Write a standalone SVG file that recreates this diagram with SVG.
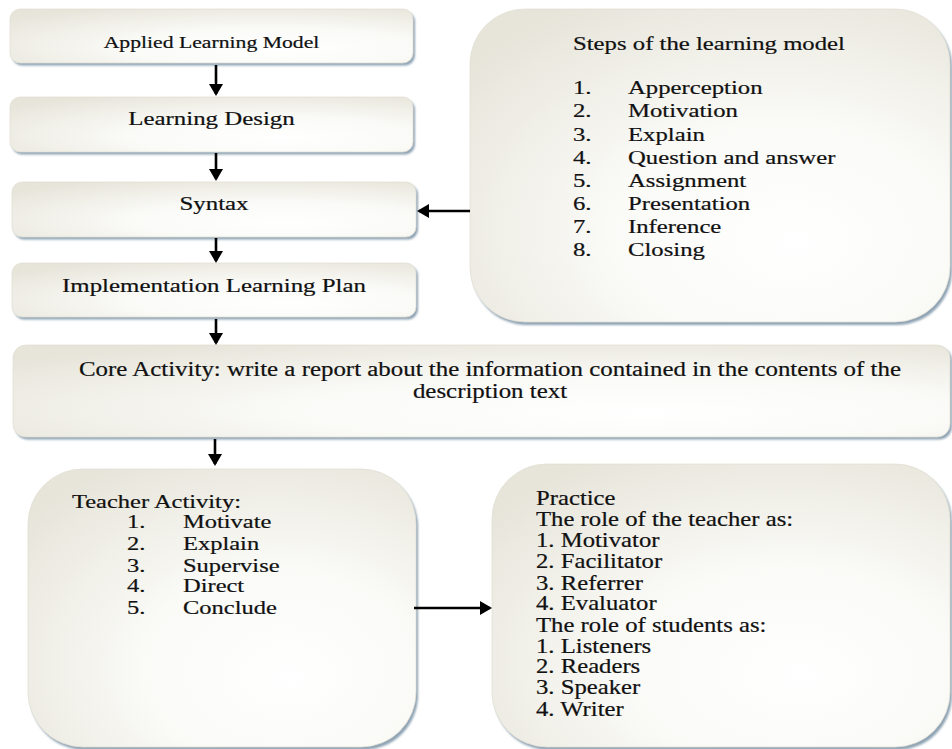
<svg xmlns="http://www.w3.org/2000/svg" width="952" height="749" viewBox="0 0 952 749">
<style>
  text { font-family: "Liberation Serif", "Times New Roman", serif; fill: #111; stroke: #111; stroke-width: 0.2; }
  .t19 { font-size: 19px; }
  .t17 { font-size: 16.7px; }
  .s { font-size: 18.6px; }
  .b { font-size: 20px; }
  .tb { font-size: 19px; }
  .box { fill: url(#fill); stroke: #e2e0d4; stroke-width: 0.8; }
  .shadow { fill: #8ea3b4; filter: url(#blur); }
  .conn { stroke: #000; stroke-width: 2.6; fill: none; marker-end: url(#ah); }
</style>
<defs>
  <radialGradient id="fill" cx="0.62" cy="0.68" r="0.8" fx="0.68" fy="0.75">
    <stop offset="0" stop-color="#ffffff"/>
    <stop offset="0.45" stop-color="#fafaf7"/>
    <stop offset="1" stop-color="#e7e5da"/>
  </radialGradient>
  <filter id="blur" x="-5%" y="-5%" width="110%" height="110%">
    <feGaussianBlur stdDeviation="0.9"/>
  </filter>
  <marker id="ah" viewBox="0 0 12 14" markerWidth="12" markerHeight="14" refX="10" refY="7" orient="auto" markerUnits="userSpaceOnUse">
    <path d="M0,0 L12,7 L0,14 z" fill="#000"/>
  </marker>
</defs>
<rect width="952" height="749" fill="#ffffff"/>

<g id="applied-learning-model">
  <rect class="shadow" x="12" y="11.5" width="403" height="54" rx="10"/>
  <rect class="box" x="10" y="9" width="403" height="54" rx="10"/>
  <text class="t17" text-anchor="middle" transform="translate(211.5 48) scale(1.3 1)">Applied Learning Model</text>
</g>

<g id="learning-design">
  <rect class="shadow" x="12" y="99.5" width="403" height="55" rx="10"/>
  <rect class="box" x="10" y="97" width="403" height="55" rx="10"/>
  <text class="t19" text-anchor="middle" transform="translate(211.5 125) scale(1.31 1)">Learning Design</text>
</g>

<g id="syntax">
  <rect class="shadow" x="14" y="184.5" width="404" height="55" rx="10"/>
  <rect class="box" x="12" y="182" width="404" height="55" rx="10"/>
  <text class="t19" text-anchor="middle" transform="translate(214 210) scale(1.31 1)">Syntax</text>
</g>

<g id="implementation-learning-plan">
  <rect class="shadow" x="14" y="265.5" width="404" height="54" rx="10"/>
  <rect class="box" x="12" y="263" width="404" height="54" rx="10"/>
  <text class="t19" text-anchor="middle" transform="translate(214 292) scale(1.31 1)">Implementation Learning Plan</text>
</g>

<g id="steps">
  <rect class="shadow" x="472" y="12" width="480" height="313" rx="55"/>
  <rect class="box" x="470" y="9" width="480" height="313" rx="55"/>
  <text class="s" transform="translate(573 50) scale(1.33 1)">Steps of the learning model</text>
  <text class="s" transform="translate(573 94) scale(1.33 1)">1.</text>
  <text class="s" transform="translate(628 94) scale(1.33 1)">Apperception</text>
  <text class="s" transform="translate(573 117) scale(1.33 1)">2.</text>
  <text class="s" transform="translate(628 117) scale(1.33 1)">Motivation</text>
  <text class="s" transform="translate(573 141) scale(1.33 1)">3.</text>
  <text class="s" transform="translate(628 141) scale(1.33 1)">Explain</text>
  <text class="s" transform="translate(573 164) scale(1.33 1)">4.</text>
  <text class="s" transform="translate(628 164) scale(1.33 1)">Question and answer</text>
  <text class="s" transform="translate(573 187) scale(1.33 1)">5.</text>
  <text class="s" transform="translate(628 187) scale(1.33 1)">Assignment</text>
  <text class="s" transform="translate(573 210) scale(1.33 1)">6.</text>
  <text class="s" transform="translate(628 210) scale(1.33 1)">Presentation</text>
  <text class="s" transform="translate(573 233) scale(1.33 1)">7.</text>
  <text class="s" transform="translate(628 233) scale(1.33 1)">Inference</text>
  <text class="s" transform="translate(573 256) scale(1.33 1)">8.</text>
  <text class="s" transform="translate(628 256) scale(1.33 1)">Closing</text>
</g>

<g id="core-activity">
  <rect class="shadow" x="15" y="347.5" width="937" height="92" rx="13"/>
  <rect class="box" x="13" y="345" width="937" height="92" rx="13"/>
  <text class="b" text-anchor="middle" transform="translate(490 376) scale(1.245 1)">Core Activity: write a report about the information contained in the contents of the</text>
  <text class="b" text-anchor="middle" transform="translate(490 398) scale(1.245 1)">description text</text>
</g>

<g id="teacher-activity">
  <rect class="shadow" x="30" y="472" width="388" height="278" rx="55"/>
  <rect class="box" x="28" y="469" width="388" height="278" rx="55"/>
  <text class="tb" transform="translate(72 508) scale(1.29 1)">Teacher Activity:</text>
  <text class="tb" transform="translate(127 528) scale(1.29 1)">1.</text>
  <text class="tb" transform="translate(183 528) scale(1.29 1)">Motivate</text>
  <text class="tb" transform="translate(127 550) scale(1.29 1)">2.</text>
  <text class="tb" transform="translate(183 550) scale(1.29 1)">Explain</text>
  <text class="tb" transform="translate(127 572) scale(1.29 1)">3.</text>
  <text class="tb" transform="translate(183 572) scale(1.29 1)">Supervise</text>
  <text class="tb" transform="translate(127 592) scale(1.29 1)">4.</text>
  <text class="tb" transform="translate(183 592) scale(1.29 1)">Direct</text>
  <text class="tb" transform="translate(127 614) scale(1.29 1)">5.</text>
  <text class="tb" transform="translate(183 614) scale(1.29 1)">Conclude</text>
</g>

<g id="practice">
  <rect class="shadow" x="494" y="467" width="458" height="283" rx="55"/>
  <rect class="box" x="492" y="464" width="458" height="283" rx="55"/>
  <text class="b" transform="translate(536 505) scale(1.235 1)">Practice</text>
  <text class="b" transform="translate(536 526) scale(1.235 1)">The role of the teacher as:</text>
  <text class="b" transform="translate(536 547) scale(1.235 1)">1. Motivator</text>
  <text class="b" transform="translate(536 568) scale(1.235 1)">2. Facilitator</text>
  <text class="b" transform="translate(536 590) scale(1.235 1)">3. Referrer</text>
  <text class="b" transform="translate(536 610) scale(1.235 1)">4. Evaluator</text>
  <text class="b" transform="translate(536 632) scale(1.235 1)">The role of students as:</text>
  <text class="b" transform="translate(536 653) scale(1.235 1)">1. Listeners</text>
  <text class="b" transform="translate(536 673) scale(1.235 1)">2. Readers</text>
  <text class="b" transform="translate(536 694) scale(1.235 1)">3. Speaker</text>
  <text class="b" transform="translate(536 716) scale(1.235 1)">4. Writer</text>
</g>

<g id="connectors">
  <line class="conn" x1="216" y1="65" x2="216" y2="94"/>
  <line class="conn" x1="216" y1="153" x2="216" y2="179"/>
  <line class="conn" x1="216" y1="238" x2="216" y2="261"/>
  <line class="conn" x1="216" y1="319" x2="216" y2="343"/>
  <line class="conn" x1="215" y1="439" x2="215" y2="464"/>
  <line class="conn" x1="470" y1="211" x2="419" y2="211"/>
  <line class="conn" x1="414" y1="608" x2="490" y2="608"/>
</g>
</svg>
